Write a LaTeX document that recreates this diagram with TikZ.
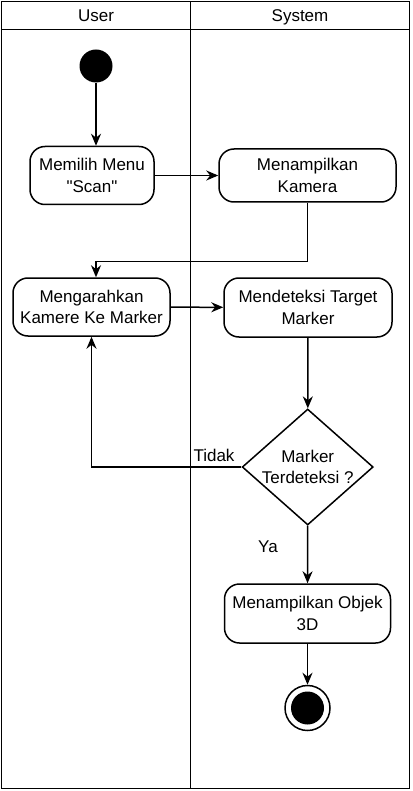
\documentclass[tikz,border=0pt]{standalone}
\usepackage{fontspec}
\setmainfont{Liberation Sans}
\usetikzlibrary{shapes.geometric,arrows.meta}

\newlength{\du}
\setlength{\du}{1pt}

\begin{document}
\begin{tikzpicture}[
  font=\fontsize{17}{21.5}\selectfont,
  lane/.style={line width=1.5\du},
  actbox/.style={draw, rounded corners=15\du, line width=1.5\du, align=center, inner sep=0pt},
  arr/.style={-{Stealth[length=12pt,width=10pt]}, line width=1.5\du}
]
\pgftransformxscale{1.000000}
\pgftransformyscale{-1.000000}
\useasboundingbox (0\du,0\du) rectangle (412\du,791\du);
% swimlanes
\draw[lane] (1.5\du,1.5\du) rectangle (409.5\du,788.5\du);
\draw[lane] (1.5\du,29.5\du)--(409.5\du,29.5\du);
\draw[lane] (190.7\du,1.5\du)--(190.7\du,788.5\du);
\node[anchor=base] (userlane) at (96.000000\du,21.500000\du){User};
\node[anchor=base] (syslane) at (300.000000\du,21.500000\du){System};
% start and end
\node[circle, fill, minimum size=33\du, inner sep=0pt] (start) at (96.000000\du,66.000000\du){};
\node[circle, draw, line width=1.5\du, minimum size=45\du, inner sep=0pt] (stop) at (307.500000\du,708.000000\du){};
\node[circle, fill, minimum size=33\du, inner sep=0pt] (stopdot) at (stop){};
% actions
\node[actbox, minimum width=124\du, minimum height=58\du] (menu) at (92.000000\du,175.500000\du){Memilih Menu\\\textquotedbl Scan\textquotedbl};
\node[actbox, minimum width=177\du, minimum height=53\du] (kamera) at (307.500000\du,175.500000\du){Menampilkan\\Kamera};
\node[actbox, minimum width=157\du, minimum height=58\du] (arahkan) at (91.500000\du,307.000000\du){Mengarahkan\\Kamere Ke Marker};
\node[actbox, minimum width=168\du, minimum height=59\du] (deteksi) at (308.000000\du,307.500000\du){Mendeteksi Target\\Marker};
\node[diamond, draw, line width=1.5\du, aspect=1.13, minimum width=131\du, minimum height=116\du, inner sep=0pt,
  label={[align=center]center:Marker\\Terdeteksi ?}] (cek) at (307.700000\du,467.000000\du){};
\node[actbox, minimum width=166\du, minimum height=59\du] (objek) at (307.500000\du,613.500000\du){Menampilkan Objek\\3D};
% flows
\draw[arr] (start)--(start |- menu.north);
\draw[arr] (menu)--(kamera);
\draw[arr] (kamera.south)--++(0\du,59\du)-|(start |- arahkan.north);
\draw[arr] (arahkan)--(deteksi);
\draw[arr] (deteksi)--(cek);
\draw[arr] (cek.west)-|(arahkan.south);
\node (tidak) at (214.000000\du,455.000000\du){Tidak};
\draw[arr] (cek)--(objek);
\node (ya) at (268.000000\du,547.000000\du){Ya};
\draw[arr] (objek)--(stop);
\end{tikzpicture}
\end{document}
